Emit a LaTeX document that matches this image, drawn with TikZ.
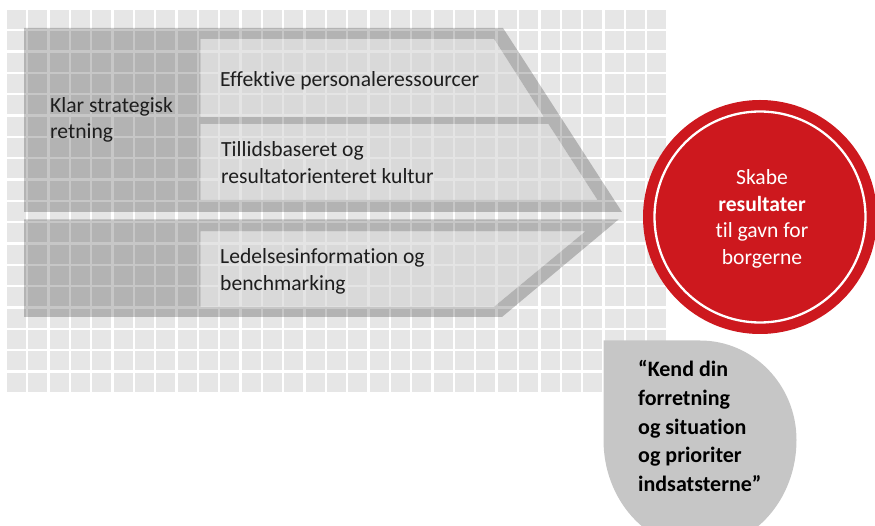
\documentclass[tikz,border=0pt]{standalone}
\usepackage{fontspec}
\setmainfont{Carlito}[Ligatures=NoCommon]
\definecolor{cellgray}{RGB}{230,230,230}
\definecolor{panelgray}{RGB}{207,207,207}
\definecolor{brandred}{RGB}{205,24,30}
\definecolor{bubblegray}{RGB}{198,198,198}
\definecolor{inkgray}{RGB}{30,30,30}
\begin{document}
\begin{tikzpicture}[x=1pt,y=-1pt,
  cell/.style={fill=cellgray},
  band/.style={fill=black, fill opacity=0.22},
  panel/.style={fill=panelgray, fill opacity=0.56},
  label/.style={anchor=base west, inner sep=0, align=left, text=inkgray,
    font=\fontsize{21.6}{26.5}\selectfont},
  quote/.style={anchor=base west, inner sep=0, align=left, text=black,
    font=\bfseries\fontsize{22}{28.8}\selectfont},
  goaltext/.style={anchor=base, inner sep=0, align=center, text=white,
    font=\fontsize{21.6}{26.5}\selectfont}]
\useasboundingbox (0,0) rectangle (875,526);

% background grid of square tiles
\foreach \i in {0,...,30}{
  \foreach \j in {0,...,17}{
    \fill[cell] ({7+21.34*\i},{10+21.34*\j}) rectangle ++(19,19);
  }
}

% upper chevron: frame and two light panels
\fill[band, even odd rule]
  (24,28) -- (503,28) -- (622,212) -- (24,212) -- cycle
  (200.7,39) -- (494,39) -- (543.6,116.7) -- (200.7,116.7) -- cycle
  (200.7,124) -- (548.3,124) -- (597.4,200) -- (200.7,200) -- cycle;
\fill[panel] (200.7,39) -- (494,39) -- (543.6,116.7) -- (200.7,116.7) -- cycle;
\fill[panel] (200.7,124) -- (548.3,124) -- (597.4,200) -- (200.7,200) -- cycle;

% lower chevron: frame and one light panel
\fill[band, even odd rule]
  (24,219.5) -- (618.5,219.5) -- (502,317) -- (24,317) -- cycle
  (200.7,231.5) -- (585,231.5) -- (494,306.7) -- (200.7,306.7) -- cycle;
\fill[panel] (200.7,231.5) -- (585,231.5) -- (494,306.7) -- (200.7,306.7) -- cycle;

% labels (anchored at the baseline of their last line)
\node[label] (strategy) at (50,139) {Klar strategisk\\retning};
\node[label] (staff) at (220,86.5) {Effektive personaleressourcer};
\node[label] (culture) at (221,183.5) {Tillidsbaseret og\\resultatorienteret kultur};
\node[label] (info) at (220,290.5) {Ledelsesinformation og\\benchmarking};

% result circle
\node[circle, fill=brandred, minimum size=234pt, inner sep=0] (goal) at (760,217) {};
\draw[white, line width=2.3pt] (goal.center) circle[radius=105.5];
\node[goaltext] (goalline) at (762,264.5) {Skabe\\\textbf{resultater}\\til gavn for\\borgerne};

% quote bubble
\fill[bubblegray] (603.5,340.5) -- (700,340.5)
  arc[start angle=-90, end angle=0, x radius=96.5, y radius=99.5]
  arc[start angle=0, end angle=180, x radius=96.5, y radius=108]
  -- cycle;
\node[quote] (motto) at (638,491.7) {“Kend din\\forretning\\og situation\\og prioriter\\indsatsterne”};
\end{tikzpicture}
\end{document}
